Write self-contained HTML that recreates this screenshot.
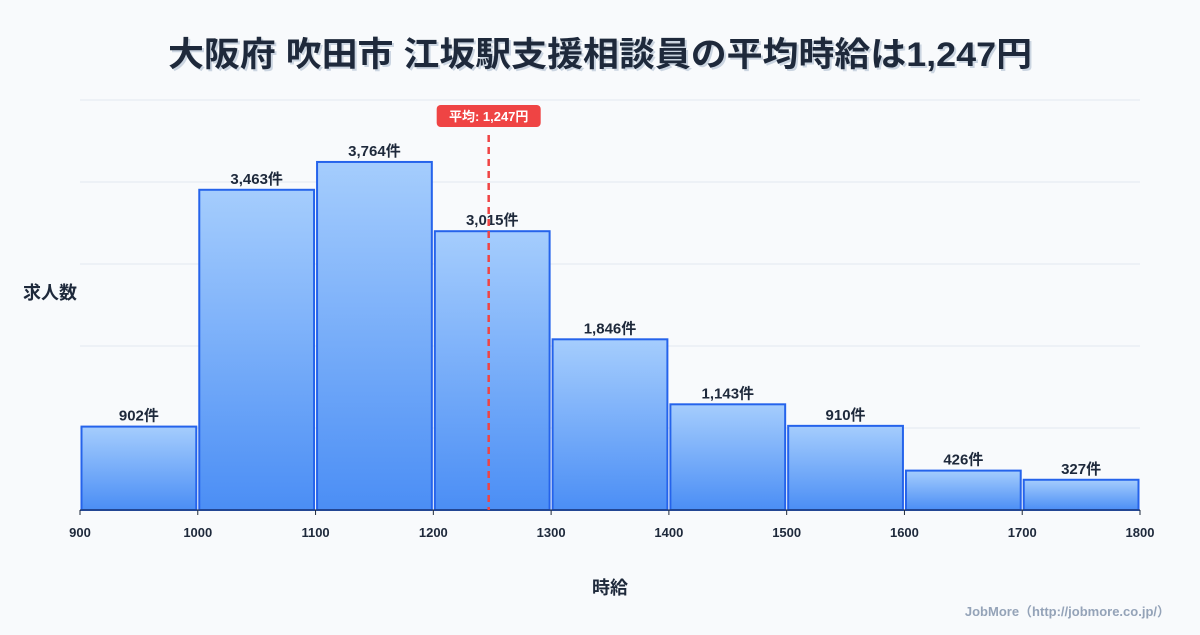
<!DOCTYPE html>
<html><head><meta charset="utf-8"><style>
body{margin:0;background:#f8fafc;}
svg text{font-family:"Liberation Sans","Noto Sans CJK JP",sans-serif;}
</style></head><body>
<svg id="c" width="1200" height="630" xmlns="http://www.w3.org/2000/svg">
<defs><linearGradient id="g" x1="0" y1="0" x2="0" y2="1"><stop offset="0" stop-color="#a5cdfd"/><stop offset="1" stop-color="#4b8ef5"/></linearGradient></defs>
<rect width="1200" height="630" fill="#f8fafc"/>
<text x="600" y="66" text-anchor="middle" font-size="34" font-weight="bold" fill="#cbd5e1" transform="translate(2,2)" textLength="864" lengthAdjust="spacingAndGlyphs">大阪府 吹田市 江坂駅支援相談員の平均時給は1,247円</text>
<text x="600" y="66" text-anchor="middle" font-size="34" font-weight="bold" fill="#1e293b" textLength="864" lengthAdjust="spacingAndGlyphs">大阪府 吹田市 江坂駅支援相談員の平均時給は1,247円</text>
<g id="grid"></g><g id="bars"></g><g id="xt"></g>
<text x="50" y="299" text-anchor="middle" font-size="18" font-weight="bold" fill="#1e293b">求人数</text>
<text x="610" y="594" text-anchor="middle" font-size="18" font-weight="bold" fill="#1e293b">時給</text>
<text x="1170" y="616" text-anchor="end" font-size="13" font-weight="bold" fill="#94a3b8">JobMore（http://jobmore.co.jp/）</text>
<g id="mean"></g>
</svg>
<script>
const edges=[900,1000,1100,1200,1300,1400,1500,1600,1700,1800];
const counts=[902,3463,3764,3015,1846,1143,910,426,327];
const countLabels=["902件","3,463件","3,764件","3,015件","1,846件","1,143件","910件","426件","327件"];
const meanValue=1247;
const meanLabel="平均: 1,247円";
const NS="http://www.w3.org/2000/svg";
const X0=80,X1=1140,Y0=510,Y1=100;
const xMin=edges[0],xMax=edges[edges.length-1];
const yMax=Math.max(...counts)*1.178;
const xs=v=>X0+(v-xMin)/(xMax-xMin)*(X1-X0);
const ys=v=>Y0-v/yMax*(Y0-Y1);
function mk(t,a,p){const e=document.createElementNS(NS,t);for(const k in a)e.setAttribute(k,a[k]);p.appendChild(e);return e;}
const grid=document.getElementById('grid');
for(let i=0;i<=5;i++){const y=Y0-i*(Y0-Y1)/5;
const l=mk('line',{x1:X0,x2:X1,y1:y,y2:y,stroke:'#e2e8f0','stroke-width':1},grid);

}
const bars=document.getElementById('bars');
counts.forEach((c,i)=>{const x=xs(edges[i])+1.5,w=xs(edges[i+1])-xs(edges[i])-3,y=ys(c);
const r=mk('rect',{x:x,y:y,width:w,height:Y0-y,fill:'url(#g)',stroke:'#2563eb','stroke-width':2},bars);


const t=mk('text',{x:x+w/2,y:y-6,'text-anchor':'middle','font-size':15,'font-weight':'bold',fill:'#1e293b'},bars);
t.textContent=countLabels[i];

});
const xt=document.getElementById('xt');
mk('line',{x1:X0,x2:X1,y1:Y0,y2:Y0,stroke:'#1e293b','stroke-width':1},xt);
edges.forEach(v=>{mk('line',{x1:xs(v),x2:xs(v),y1:Y0,y2:Y0+5,stroke:'#1e293b'},xt);
const t=mk('text',{x:xs(v),y:537,'text-anchor':'middle','font-size':13,'font-weight':'bold',fill:'#1e293b'},xt);
t.textContent=v;

});
const m=document.getElementById('mean');const mx=xs(meanValue);
const ml=mk('line',{x1:mx,x2:mx,y1:135,y2:Y0,stroke:'#ef4444','stroke-width':2.5,'stroke-dasharray':'7,5'},m);


const mr=mk('rect',{x:mx-52,y:105,width:104,height:22,rx:4,fill:'#ef4444'},m);


const mt=mk('text',{x:mx,y:121,'text-anchor':'middle','font-size':13,'font-weight':'bold',fill:'#fff'},m);
mt.textContent=meanLabel;


</script>
</body></html>
